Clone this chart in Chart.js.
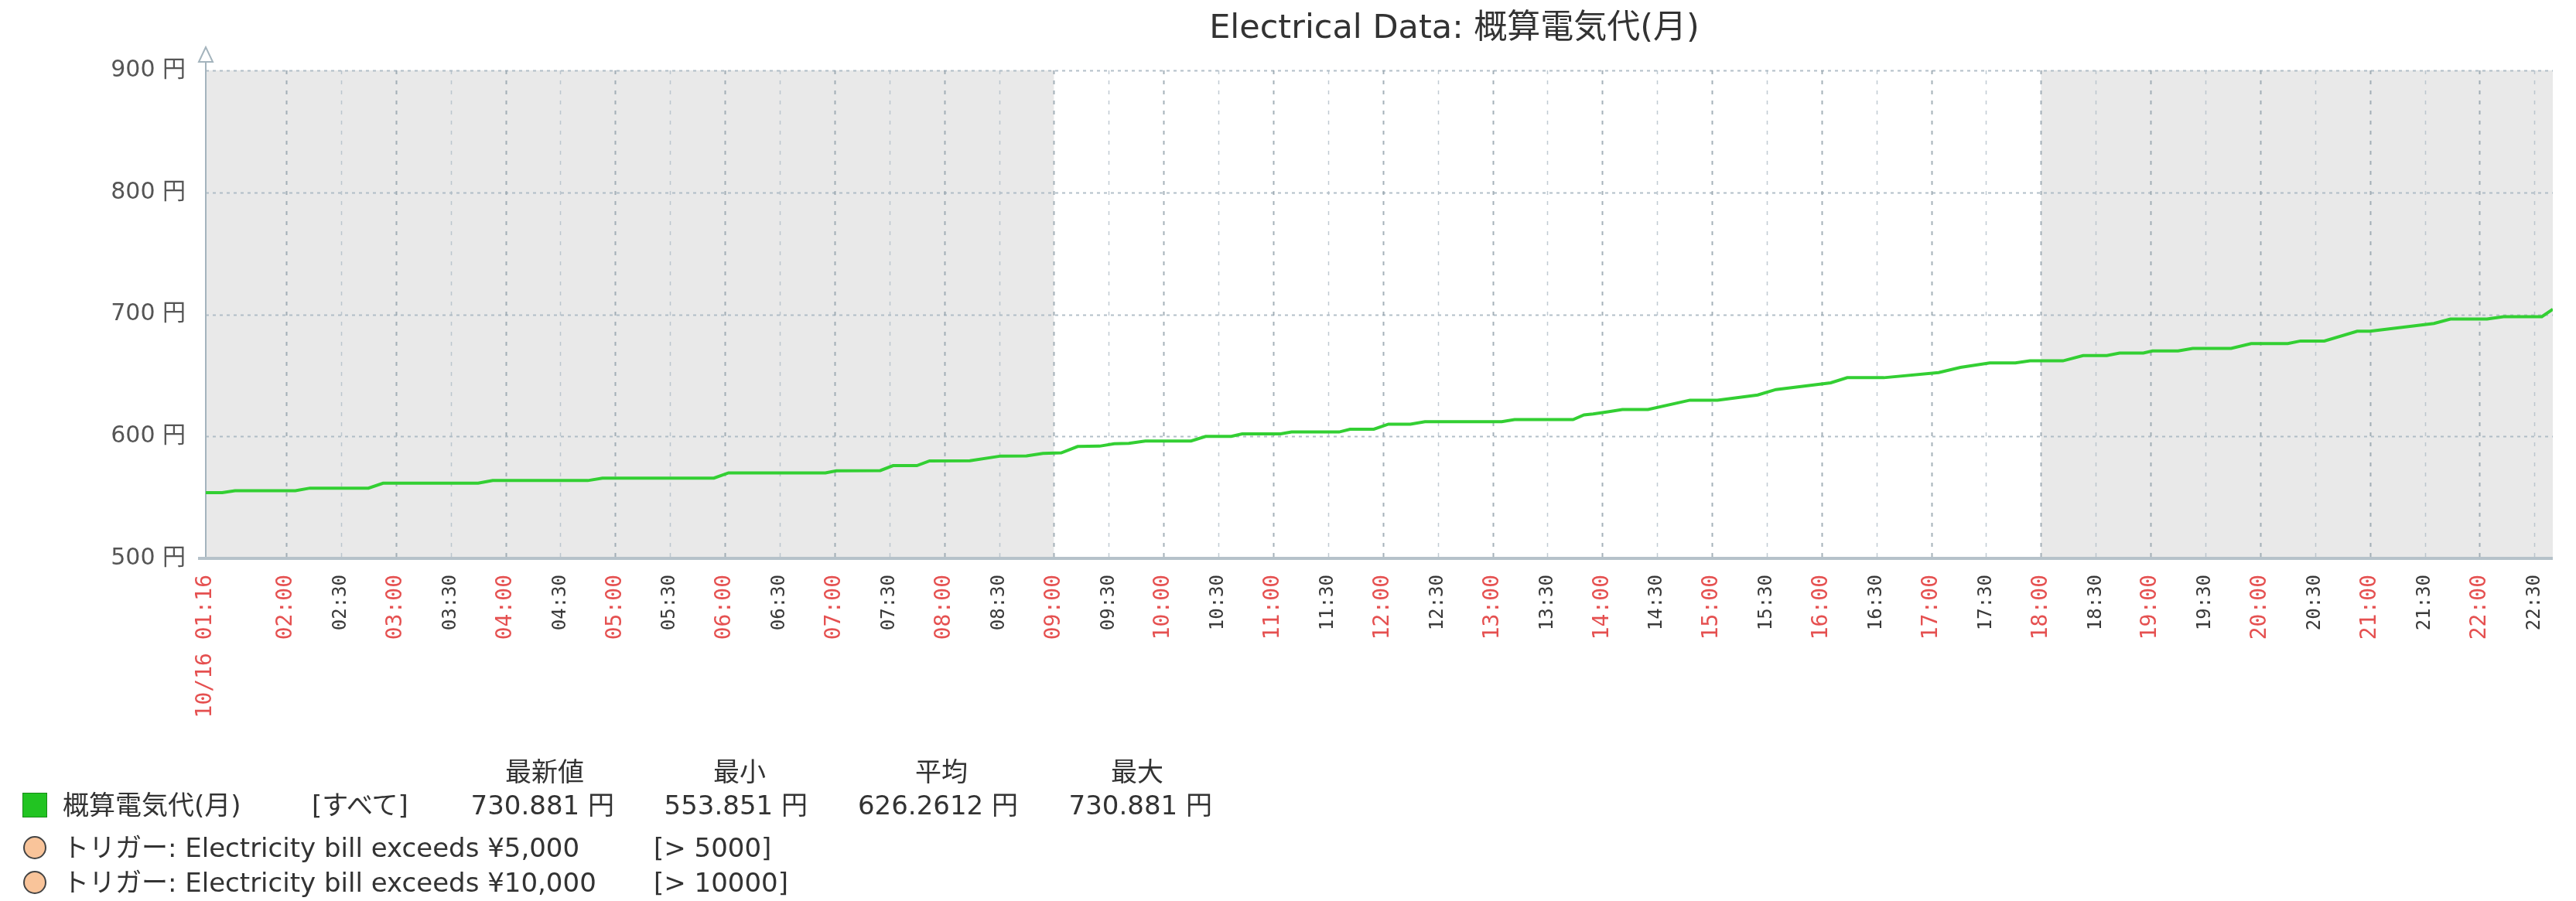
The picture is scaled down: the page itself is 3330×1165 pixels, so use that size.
<!DOCTYPE html>
<html lang="ja">
<head>
<meta charset="utf-8">
<title>Electrical Data: 概算電気代(月)</title>
<script src="https://cdn.jsdelivr.net/npm/chart.js@4.4.1/dist/chart.umd.min.js"></script>
<style>
  html, body { margin: 0; padding: 0; background: #fff; }
  #wrap { position: relative; width: 3330px; height: 1165px; overflow: hidden;
          font-family: "DejaVu Sans", "Noto Sans CJK JP", sans-serif; color: #333; }
  #graph { position: absolute; left: 0; top: 0; }
  .lg { position: absolute; font-size: 34px; line-height: 40px; height: 40px; white-space: nowrap; }
  .hd { transform: translateX(-50%); }
  .sq { position: absolute; width: 30px; height: 30px; background: #22c422; border: 1px solid #178a17; }
  .dot { position: absolute; width: 26px; height: 26px; border-radius: 50%; background: #f9c49a; border: 2px solid #444; }
</style>
</head>
<body>
<div id="wrap">
  <canvas id="graph" width="3330" height="1165"></canvas>
  <div id="legend"></div>
</div>
<script>
const chartTitle = "Electrical Data: 概算電気代(月)";
const FONT = '"DejaVu Sans", "Noto Sans CJK JP", sans-serif';

// 10/16, sample times and value (円)
const times = ["01:16","01:25","01:32","02:05","02:13","02:45","02:53","03:45","03:53","04:45",
  "04:53","05:54","06:02","06:55","07:01","07:25","07:32","07:45","07:52","08:14",
  "08:31","08:45","08:54","09:04","09:13","09:25","09:33","09:41","09:50","10:15",
  "10:23","10:37","10:43","11:04","11:10","11:36","11:42","11:55","12:03","12:15",
  "12:23","13:05","13:12","13:44","13:50","13:55","14:03","14:11","14:25","14:48",
  "15:03","15:25","15:35","16:05","16:14","16:34","17:04","17:16","17:32","17:46",
  "17:54","18:12","18:23","18:36","18:43","18:56","19:01","19:15","19:23","19:44",
  "19:55","20:15","20:22","20:35","20:53","21:00","21:35","21:44","22:04","22:13",
  "22:34","22:40"];
const costs = [553.9,553.9,555.5,555.5,557.6,557.6,561.6,561.6,563.8,563.8,
  565.7,565.8,570.1,570.1,571.8,572.0,576.0,576.0,579.9,580.0,
  583.9,584.0,586.0,586.5,591.7,592.0,594.0,594.3,596.2,596.2,
  600.0,600.0,602.1,602.1,603.6,603.6,605.9,605.9,610.0,610.0,
  612.1,612.1,613.8,613.8,617.6,618.4,620.1,622.0,622.0,629.7,
  629.7,633.9,638.4,643.9,648.1,648.1,652.3,656.6,660.2,660.2,
  661.9,661.9,666.2,666.2,668.3,668.3,670.0,670.0,672.1,672.1,
  676.1,676.1,678.2,678.2,686.2,686.2,692.6,696.2,696.2,698.1,
  698.1,704.2];

const xTickLabels = ["10/16 01:16","02:00","02:30","03:00","03:30","04:00","04:30","05:00","05:30",
  "06:00","06:30","07:00","07:30","08:00","08:30","09:00","09:30","10:00","10:30","11:00",
  "11:30","12:00","12:30","13:00","13:30","14:00","14:30","15:00","15:30","16:00","16:30",
  "17:00","17:30","18:00","18:30","19:00","19:30","20:00","20:30","21:00","21:30","22:00","22:30"];
const yTicks = [500, 600, 700, 800, 900];
const viewRange = ["01:16", "22:40"];
const workHours = ["09:00", "18:00"];

const statHeaders = ["最新値", "最小", "平均", "最大"];
const seriesName = "概算電気代(月)";
const seriesFunc = "[すべて]";
const seriesStats = ["730.881 円", "553.851 円", "626.2612 円", "730.881 円"];
const triggerNames = ["トリガー: Electricity bill exceeds ¥5,000", "トリガー: Electricity bill exceeds ¥10,000"];
const triggerRules = ["[> 5000]", "[> 10000]"];

function toMin(s) {
  const [h, m] = s.slice(-5).split(":").map(Number);
  return h * 60 + m;
}
const xTickMinutes = xTickLabels.map(toMin);
const isMajor = i => i === 0 || xTickMinutes[i] % 60 === 0;

const zbxFrame = {
  id: "zbxFrame",
  beforeDatasetsDraw(chart) {
    const { ctx, chartArea: a, scales: { x, y } } = chart;
    ctx.save();
    ctx.fillStyle = "#e9e9e9";
    ctx.fillRect(a.left, a.top, a.width, a.height);
    const ws = x.getPixelForValue(toMin(workHours[0]));
    const we = x.getPixelForValue(toMin(workHours[1]));
    ctx.fillStyle = "#ffffff";
    ctx.fillRect(ws, a.top, we - ws, a.height);

    // horizontal dotted grid
    ctx.lineWidth = 2;
    ctx.strokeStyle = "rgba(170,184,194,0.9)";
    ctx.setLineDash([4, 5]);
    yTicks.slice(1).forEach(v => {
      const py = Math.round(y.getPixelForValue(v)) + 0.5;
      ctx.beginPath(); ctx.moveTo(a.left, py); ctx.lineTo(a.right, py); ctx.stroke();
    });

    // vertical dashed grid, hours a bit stronger
    ctx.setLineDash([5, 8]);
    xTickMinutes.slice(1).forEach((m, k) => {
      const px = Math.round(x.getPixelForValue(m)) + 0.5;
      const hour = isMajor(k + 1);
      ctx.lineWidth = hour ? 2 : 1.5;
      ctx.strokeStyle = hour ? "rgba(150,164,174,0.85)" : "rgba(172,186,196,0.75)";
      ctx.beginPath(); ctx.moveTo(px, a.top); ctx.lineTo(px, a.bottom); ctx.stroke();
    });
    ctx.setLineDash([]);

    // axes
    ctx.strokeStyle = "#a4b4bd";
    ctx.lineWidth = 2;
    ctx.beginPath(); ctx.moveTo(a.left, a.bottom); ctx.lineTo(a.left, a.top - 12); ctx.stroke();
    ctx.beginPath();
    ctx.moveTo(a.left, a.top - 30); ctx.lineTo(a.left - 9, a.top - 11); ctx.lineTo(a.left + 9, a.top - 11);
    ctx.closePath();
    ctx.fillStyle = "#ffffff"; ctx.fill(); ctx.stroke();
    ctx.strokeStyle = "#b6c2ca";
    ctx.lineWidth = 4;
    ctx.beginPath(); ctx.moveTo(a.left - 10, a.bottom); ctx.lineTo(a.right, a.bottom); ctx.stroke();
    ctx.restore();
  },
  afterDraw(chart) {
    const { ctx } = chart;
    ctx.save();
    ctx.font = "43px " + FONT;
    ctx.fillStyle = "#333";
    ctx.textAlign = "center";
    ctx.textBaseline = "middle";
    ctx.fillText(chartTitle, 1880, 38);
    ctx.restore();
  }
};

new Chart(document.getElementById("graph"), {
  type: "line",
  data: {
    datasets: [{
      label: seriesName,
      data: times.map((t, i) => ({ x: toMin(t), y: costs[i] })),
      borderColor: "#33cf33",
      borderWidth: 4,
      pointRadius: 0,
      tension: 0,
      fill: false
    }]
  },
  options: {
    responsive: false,
    devicePixelRatio: 1,
    animation: false,
    layout: { padding: { top: 91, right: 30, left: 0, bottom: 0 } },
    plugins: { legend: { display: false }, tooltip: { enabled: false }, title: { display: false } },
    scales: {
      x: {
        type: "linear",
        min: toMin(viewRange[0]),
        max: toMin(viewRange[1]),
        afterBuildTicks: s => { s.ticks = xTickMinutes.map(v => ({ value: v })); },
        afterFit: s => { s.height = 443; },
        grid: { display: false, drawTicks: false },
        border: { display: false },
        ticks: {
          autoSkip: false,
          minRotation: 90,
          maxRotation: 90,
          padding: 21,
          font: c => ({ family: '"DejaVu Sans Mono", monospace', size: isMajor(c.index) ? 28 : 24 }),
          color: c => isMajor(c.index) ? "#e55050" : "#3a3a3a",
          callback: (v, i) => xTickLabels[i]
        }
      },
      y: {
        min: yTicks[0],
        max: yTicks[yTicks.length - 1],
        afterBuildTicks: s => { s.ticks = yTicks.map(v => ({ value: v })); },
        afterFit: s => { s.width = 266; },
        grid: { display: false, drawTicks: false },
        border: { display: false },
        ticks: {
          padding: 26,
          font: { family: FONT, size: 30 },
          color: "#555",
          callback: v => v + " 円"
        }
      }
    }
  },
  plugins: [zbxFrame]
});

// legend table under the graph
const lg = document.getElementById("legend");
function addText(txt, css, cls) {
  const d = document.createElement("div");
  d.className = "lg" + (cls ? " " + cls : "");
  d.textContent = txt;
  Object.assign(d.style, css);
  lg.appendChild(d);
}
const headerCenters = [704, 956, 1217, 1470];
const statRights = [794, 1044, 1316, 1567];
statHeaders.forEach((h, i) => addText(h, { left: headerCenters[i] + "px", top: "978px" }, "hd"));

const sq = document.createElement("div");
sq.className = "sq"; sq.style.left = "29px"; sq.style.top = "1025px";
lg.appendChild(sq);
addText(seriesName, { left: "81px", top: "1021px" });
addText(seriesFunc, { left: "403px", top: "1021px" });
seriesStats.forEach((s, i) => addText(s, { right: (3330 - statRights[i]) + "px", top: "1021px" }));

const triggerRows = [1096, 1141];
triggerNames.forEach((t, i) => {
  const c = document.createElement("div");
  c.className = "dot"; c.style.left = "30px"; c.style.top = (triggerRows[i] - 15) + "px";
  lg.appendChild(c);
  addText(t, { left: "81px", top: (triggerRows[i] - 20) + "px" });
  addText(triggerRules[i], { left: "845px", top: (triggerRows[i] - 20) + "px" });
});
</script>
</body>
</html>
